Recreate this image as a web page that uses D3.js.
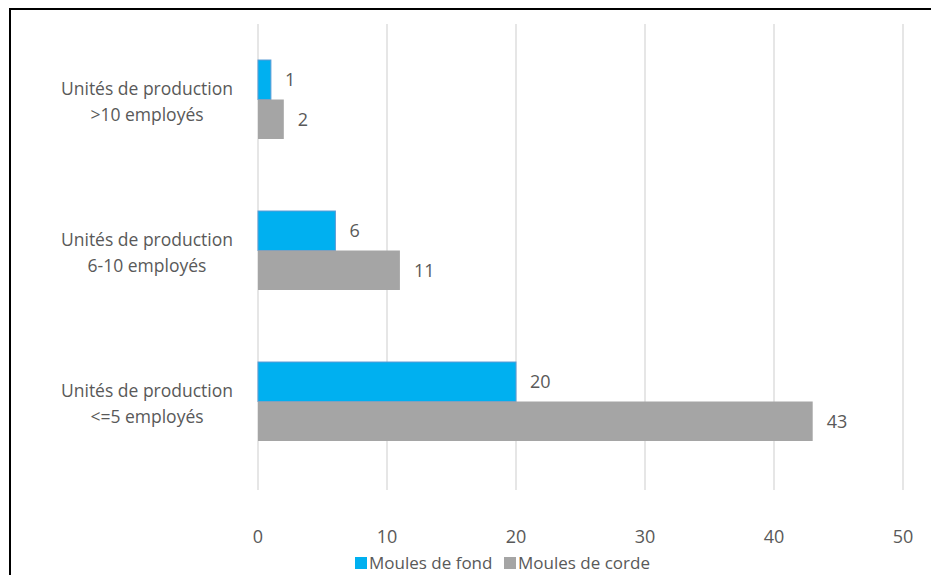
<!DOCTYPE html>
<html>
<head>
<meta charset="utf-8">
<script src="https://cdn.jsdelivr.net/npm/d3@7"></script>
<style>
  html, body { margin: 0; padding: 0; background: #fff; }
  svg { display: block; }
  text { font-family: "Open Sans", "Noto Sans", sans-serif; fill: #595959; }
</style>
</head>
<body>
<svg id="chart" width="931" height="575"></svg>
<script>
// Categories, top to bottom, each label split over two lines
const categories = [
  ["Unités de production", ">10 employés"],
  ["Unités de production", "6-10 employés"],
  ["Unités de production", "<=5 employés"]
];
const seriesNames = ["Moules de fond", "Moules de corde"];
const seriesColors = ["#00B0F0", "#A5A5A5"];
const moulesDeFond = [1, 6, 20];
const moulesDeCorde = [2, 11, 43];
const xTicks = [0, 10, 20, 30, 40, 50];

const series = [moulesDeFond, moulesDeCorde];
const svg = d3.select("#chart");

// Outer frame
svg.append("rect")
  .attr("x", 10).attr("y", 9)
  .attr("width", 960).attr("height", 620)
  .attr("fill", "#fff").attr("stroke", "#000").attr("stroke-width", 2);

const plot = { left: 258, right: 903, top: 24, bottom: 490 };

const x = d3.scaleLinear().domain([0, 50]).range([plot.left, plot.right]);
// Bars sit in bands laid out over the upper part of the plot area
const y = d3.scaleBand().domain(d3.range(categories.length))
  .range([plot.top, 477]).paddingInner(0.477).paddingOuter(0.2385);
const ySub = d3.scaleBand().domain(d3.range(series.length))
  .range([0, y.bandwidth()]);

// Vertical gridlines
svg.append("g").selectAll("line").data(xTicks).join("line")
  .attr("x1", d => x(d)).attr("x2", d => x(d))
  .attr("y1", plot.top).attr("y2", plot.bottom)
  .attr("stroke", "#D9D9D9").attr("stroke-width", 1.3);

// Bars and value labels
const groups = svg.append("g").selectAll("g").data(categories).join("g")
  .attr("transform", (d, i) => `translate(0,${y(i)})`);

groups.each(function(cat, i) {
  const g = d3.select(this);
  series.forEach((vals, s) => {
    g.append("rect")
      .attr("x", x(0))
      .attr("y", ySub(s))
      .attr("width", x(vals[i]) - x(0))
      .attr("height", ySub.bandwidth())
      .attr("fill", seriesColors[s])
      .attr("stroke", s === 0 ? "#5B9BD5" : "none")
      .attr("stroke-width", s === 0 ? 1 : 0);
    g.append("text")
      .attr("x", x(vals[i]) + 14)
      .attr("y", ySub(s) + ySub.bandwidth() / 2)
      .attr("dy", "0.36em")
      .attr("font-size", 18)
      .text(vals[i]);
  });
});

// Category labels
const catLabels = svg.append("g").selectAll("text").data(categories).join("text")
  .attr("x", 147)
  .attr("y", (d, i) => y(i) + y.bandwidth() / 2 - 11)
  .attr("text-anchor", "middle")
  .attr("font-size", 17.5);
catLabels.each(function(lines) {
  const t = d3.select(this);
  lines.forEach((line, k) => {
    t.append("tspan").attr("x", 147).attr("dy", k === 0 ? "0.36em" : 26).text(line);
  });
});

// X axis tick labels
svg.append("g").selectAll("text").data(xTicks).join("text")
  .attr("x", d => x(d))
  .attr("y", 537)
  .attr("dy", "0.36em")
  .attr("text-anchor", "middle")
  .attr("font-size", 18)
  .text(d => d);

// Legend
const legend = svg.append("g");
const legendItems = [
  { name: seriesNames[0], color: seriesColors[0], x: 355 },
  { name: seriesNames[1], color: seriesColors[1], x: 504 }
];
legendItems.forEach(item => {
  legend.append("rect")
    .attr("x", item.x).attr("y", 557)
    .attr("width", 12).attr("height", 12)
    .attr("fill", item.color);
  legend.append("text")
    .attr("x", item.x + 14).attr("y", 563)
    .attr("dy", "0.36em")
    .attr("font-size", 17)
    .text(item.name);
});
</script>
</body>
</html>
